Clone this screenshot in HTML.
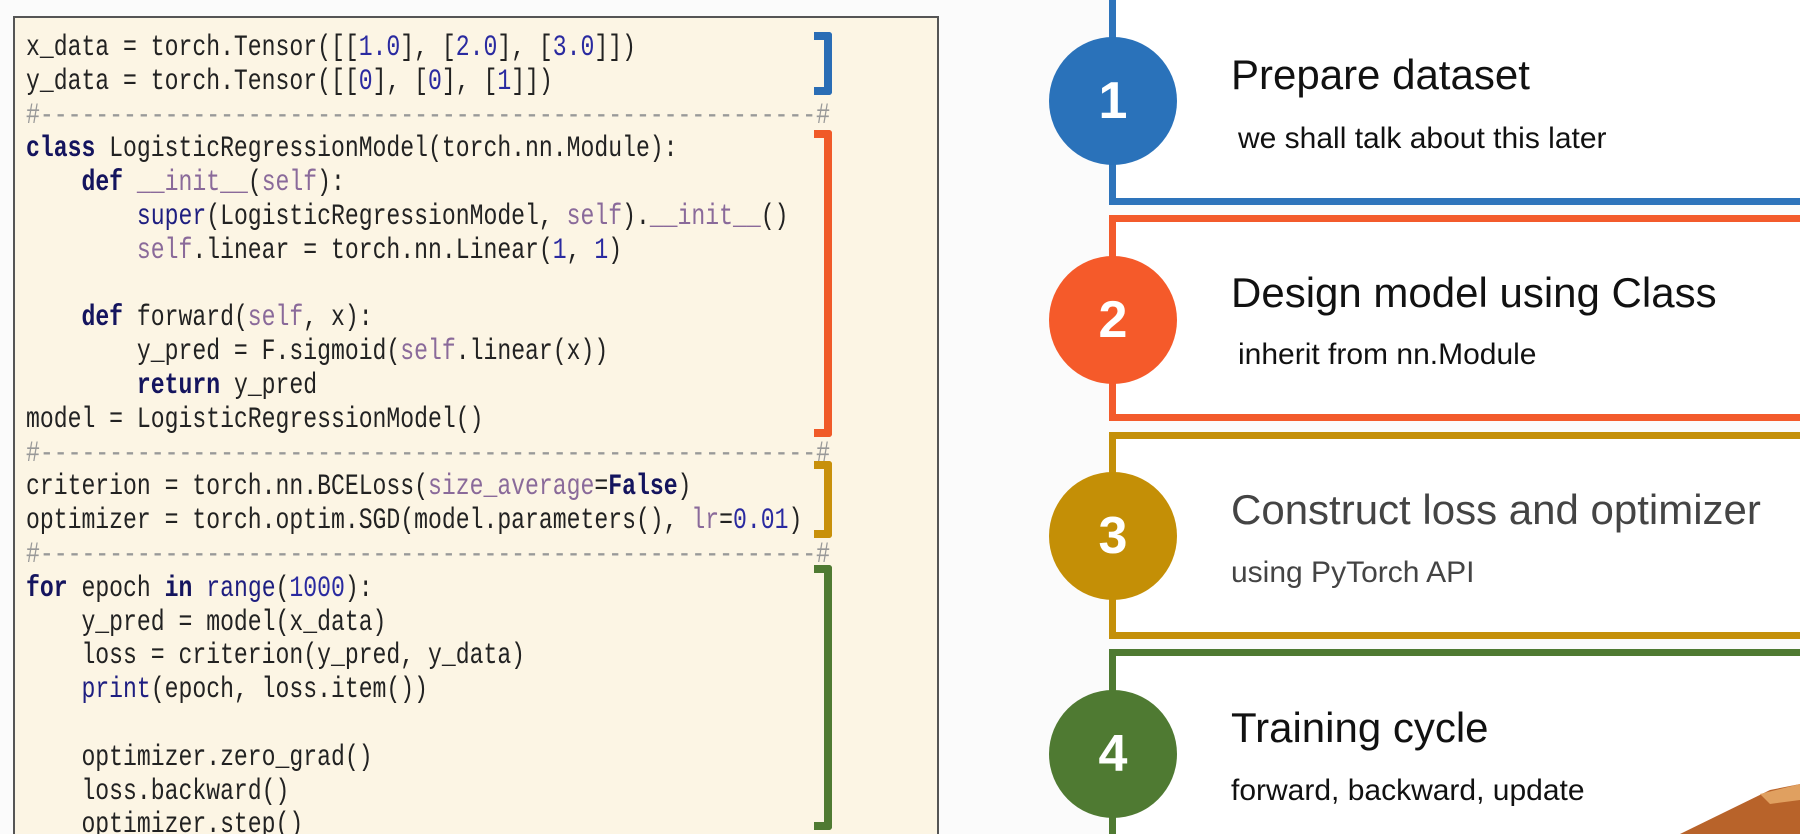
<!DOCTYPE html>
<html><head><meta charset="utf-8"><style>
html{margin:0;width:1800px;height:834px;overflow:hidden}
body{margin:0;width:1800px;height:834px;overflow:hidden;background:#fbfbfb;position:relative;font-family:"Liberation Sans",sans-serif}
.panel{position:absolute;left:13px;top:16px;width:926px;height:818px;background:#fcf5e4;border:2px solid #555;border-bottom:none;box-sizing:border-box}
.code{position:absolute;left:26px;top:32px;font-family:"Liberation Mono","Noto Sans CJK SC",monospace;font-size:30px;line-height:33.8px;color:#222;white-space:pre;transform:scaleX(0.77);transform-origin:0 0}
.k{color:#14145e;font-weight:bold}.p{color:#8a6a9a}.n{color:#2a2aa0}.b{color:#1e1e80}.h{color:#999}
.br{position:absolute;width:18px;border:8px solid;border-left:none;border-radius:0 3px 3px 0;box-sizing:border-box}
.box{position:absolute;left:1109px;width:720px;border:7px solid;background:#fff;box-sizing:border-box}
.c{position:absolute;left:1049px;width:128px;height:128px;border-radius:50%;color:#fff;font-weight:bold;font-size:52px;text-align:center;line-height:128px}
.t{position:absolute;left:1231px;font-size:42px;color:#111;white-space:nowrap}
.s{position:absolute;left:1238px;font-size:30px;color:#111;white-space:nowrap}
</style></head><body>
<div class="panel"></div>
<div class="code">x_data = torch.Tensor([[<span class="n">1.0</span>], [<span class="n">2.0</span>], [<span class="n">3.0</span>]])
y_data = torch.Tensor([[<span class="n">0</span>], [<span class="n">0</span>], [<span class="n">1</span>]])
<span class="h">#--------------------------------------------------------#</span>
<span class="k">class</span> LogisticRegressionModel(torch.nn.Module):
    <span class="k">def</span> <span class="p">__init__</span>(<span class="p">self</span>):
        <span class="b">super</span>(LogisticRegressionModel, <span class="p">self</span>).<span class="p">__init__</span>()
        <span class="p">self</span>.linear = torch.nn.Linear(<span class="n">1</span>, <span class="n">1</span>)

    <span class="k">def</span> forward(<span class="p">self</span>, x):
        y_pred = F.sigmoid(<span class="p">self</span>.linear(x))
        <span class="k">return</span> y_pred
model = LogisticRegressionModel()
<span class="h">#--------------------------------------------------------#</span>
criterion = torch.nn.BCELoss(<span class="p">size_average</span>=<span class="k">False</span>)
optimizer = torch.optim.SGD(model.parameters(), <span class="p">lr</span>=<span class="n">0.01</span>)
<span class="h">#--------------------------------------------------------#</span>
<span class="k">for</span> epoch <span class="k">in</span> <span class="b">range</span>(<span class="n">1000</span>):
    y_pred = model(x_data)
    loss = criterion(y_pred, y_data)
    <span class="b">print</span>(epoch, loss.item())

    optimizer.zero_grad()
    loss.backward()
    optimizer.step()</div>
<div class="br" style="left:814px;top:32px;height:63px;border-color:#2a6db5"></div>
<div class="br" style="left:814px;top:130px;height:307px;border-color:#f05a28"></div>
<div class="br" style="left:814px;top:461px;height:77px;border-color:#c8900a"></div>
<div class="br" style="left:814px;top:565px;height:265px;border-color:#4f7a32"></div>

<div class="box" style="top:-10px;height:215px;border-color:#2e74bb"></div>
<div class="box" style="top:215px;height:206px;border-color:#f35b2c"></div>
<div class="box" style="top:432px;height:207px;border-color:#c4900a"></div>
<div class="box" style="top:649px;height:185px;border-color:#4f7a32;border-bottom:none"></div>
<div class="c" style="top:37px;background:#2a72ba">1</div>
<div class="c" style="top:256px;background:#f55a2a">2</div>
<div class="c" style="top:472px;background:#c48f06">3</div>
<div class="c" style="top:690px;background:#4f7a32">4</div>
<div class="t" style="top:51px">Prepare dataset</div>
<div class="s" style="top:122px">we shall talk about this later</div>
<div class="t" style="top:269px">Design model using Class</div>
<div class="s" style="top:338px">inherit from nn.Module</div>
<div class="t" style="top:486px;color:#444">Construct loss and optimizer</div>
<div class="s" style="top:556px;left:1231px;color:#444">using PyTorch API</div>
<div class="t" style="top:704px">Training cycle</div>
<div class="s" style="top:774px;left:1231px">forward, backward, update</div>
<svg style="position:absolute;left:1660px;top:780px" width="140" height="54"><polygon points="20,54 110,10 140,4 140,54" fill="#b8632a"/><polygon points="100,14 140,4 140,20 110,24" fill="#e0a060"/></svg>
</body></html>
